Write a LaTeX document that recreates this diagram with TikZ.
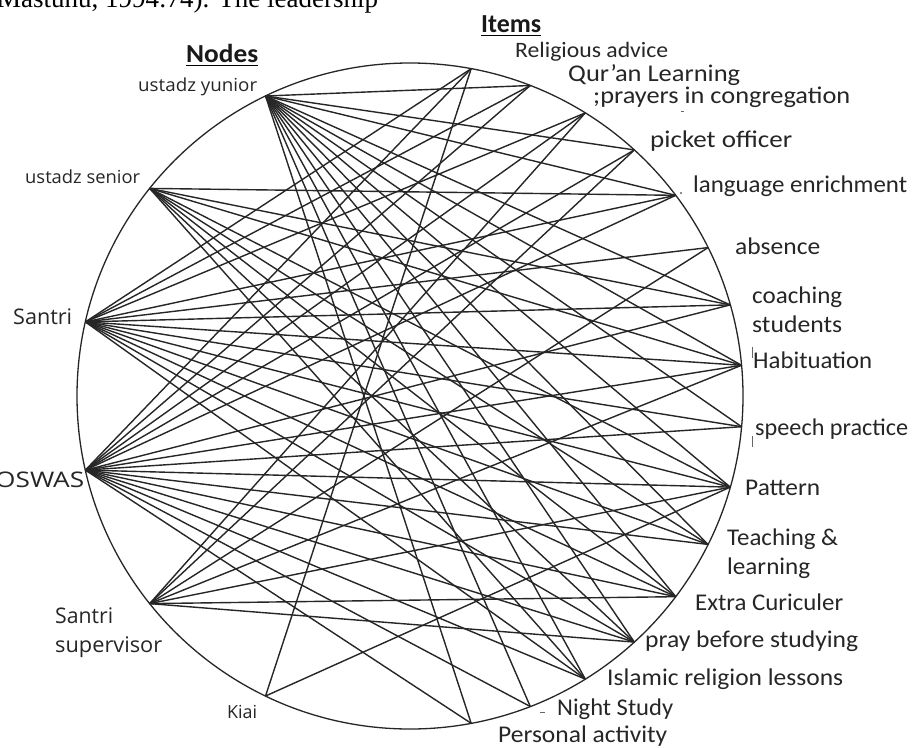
\documentclass[tikz,border=0pt]{standalone}
\usepackage{fontspec}
\setmainfont{Carlito}
\newfontfamily\leftfont{Open Sans}
\newfontfamily\bodyserif{Liberation Serif}
\usetikzlibrary{calc}

% text of a given size, stretched to a given width
\newcommand{\fitlabel}[3]{\resizebox{#1pt}{\height}{\fontsize{#2}{#2}\selectfont #3}}

\begin{document}
\begin{tikzpicture}[x=1pt,y=-1pt,
  chord/.style={line width=1.4pt, black!85},
  rim/.style={line width=1.3pt, black!85},
  speck/.style={line width=1pt, black!60},
  lbl/.style={inner sep=0pt, anchor=base west, text=black!85},
  hdr/.style={inner sep=0pt, anchor=base west, font=\bfseries, text=black!90}]
\useasboundingbox (0,0) rectangle (912,747);
\clip (0,0) rectangle (912,747);
\fill[white] (0,0) rectangle (912,747);

% running text line of the page above the figure
\node[inner sep=0pt, anchor=base west] (bodyline) at (-3,7)
  {\bodyserif\fontsize{27}{27}\selectfont Mastuhu, 1994:74). The leadership};

% the circle
\coordinate (O) at (410,396);
\draw[rim] (O) circle[radius=333];

% actors on the left arc
\foreach \nm [count=\j] in {yunior,senior,santri,oswas,supervisor,kiai}
  \coordinate (\nm) at ({410+333*cos(90+\j*180/7)},{396-333*sin(90+\j*180/7)});

% items on the right arc
\foreach \nm [count=\k] in {advice,quran,congregation,picket,language,absence,
    coaching,habituation,speech,pattern,teaching,extra,praybefore,islamic,night,personal}
  \coordinate (\nm) at ({410+333*cos(90-\k*180/17)},{396-333*sin(90-\k*180/17)});

% ties between actors and items
\foreach \a/\b in {
  yunior/quran, yunior/picket, yunior/language, yunior/coaching, yunior/habituation,
  yunior/speech, yunior/pattern, yunior/teaching, yunior/extra, yunior/praybefore,
  yunior/islamic, yunior/night, yunior/personal,
  senior/language, senior/coaching, senior/habituation, senior/pattern, senior/teaching,
  senior/extra, senior/praybefore, senior/islamic,
  santri/advice, santri/quran, santri/congregation, santri/language, santri/absence,
  santri/coaching, santri/habituation, santri/speech, santri/pattern, santri/teaching,
  santri/extra, santri/praybefore, santri/islamic,
  oswas/advice, oswas/quran, oswas/congregation, oswas/picket, oswas/language,
  oswas/coaching, oswas/habituation, oswas/speech, oswas/pattern,
  oswas/teaching, oswas/extra, oswas/praybefore, oswas/islamic, oswas/night, oswas/personal,
  supervisor/congregation, supervisor/picket, supervisor/absence,
  supervisor/habituation, supervisor/pattern, supervisor/extra, supervisor/praybefore,
  kiai/advice, kiai/pattern}
  \draw[chord] (\a) -- (\b);

% stray marks beside some item labels
\fill[black!60] (681,193) circle[radius=1.2];
\draw[speck] (681,111) -- (684,111);
\draw[speck] (752,347) -- (752,358);
\draw[speck] (752,436) -- (752,447);
\draw[speck] (540,712) -- (545,712);

% headings
\node[hdr] (hnodes) at (186,62) {\fitlabel{72}{26}{Nodes}};
\draw[line width=1.3pt] (186,65.5) -- (258,65.5);
\node[hdr] (hitems) at (481,32) {\fitlabel{60}{26}{Items}};
\draw[line width=1.3pt] (481,35.5) -- (541,35.5);

% actor labels
\node[lbl] (lyunior) at (138,91) {\fitlabel{119}{18}{\leftfont ustadz yunior}};
\node[lbl] (lsenior) at (25,183) {\fitlabel{115}{18}{\leftfont ustadz senior}};
\node[lbl] (lsantri) at (13,324) {\fitlabel{59}{21.5}{\leftfont Santri}};
\node[lbl] (loswas) at (-5,487) {\fitlabel{89}{21.5}{\leftfont OSWAS}};
\node[lbl] (lsup1) at (55,623) {\fitlabel{58}{21.5}{\leftfont Santri}};
\node[lbl] (lsup2) at (55,652) {\fitlabel{107}{21.5}{\leftfont supervisor}};
\node[lbl] (lkiai) at (227,718) {\fitlabel{30}{18}{\leftfont Kiai}};

% item labels
\node[lbl] (ladvice) at (515,57) {\fitlabel{153}{22}{Religious advice}};
\node[lbl] (lquran) at (568,81) {\fitlabel{172}{24}{Qur'an Learning}};
\node[lbl] (lcong) at (593,103) {\fitlabel{257}{24}{;prayers in congregation}};
\node[lbl] (lpicket) at (650,147) {\fitlabel{142}{24}{picket officer}};
\node[lbl] (llang) at (693,192) {\fitlabel{214}{24}{language enrichment}};
\node[lbl] (labs) at (735,254) {\fitlabel{85}{24}{absence}};
\node[lbl] (lcoach) at (752,303) {\fitlabel{90}{24}{coaching}};
\node[lbl] (lstud) at (752,332) {\fitlabel{90}{24}{students}};
\node[lbl] (lhab) at (753,368) {\fitlabel{119}{24}{Habituation}};
\node[lbl] (lspeech) at (755,435) {\fitlabel{153}{24}{speech practice}};
\node[lbl] (lpattern) at (745,495) {\fitlabel{75}{24}{Pattern}};
\node[lbl] (lteach1) at (727,545) {\fitlabel{111}{24}{Teaching \&}};
\node[lbl] (lteach2) at (727,574) {\fitlabel{83}{24}{learning}};
\node[lbl] (lextra) at (695,610) {\fitlabel{148}{24}{Extra Curiculer}};
\node[lbl] (lpray) at (645,647) {\fitlabel{213}{24}{pray before studying}};
\node[lbl] (lislam) at (607,685) {\fitlabel{236}{24}{Islamic religion lessons}};
\node[lbl] (lnight) at (557,715) {\fitlabel{116}{24}{Night Study}};
\node[lbl] (lpers) at (498,742) {\fitlabel{169}{24}{Personal activity}};
\end{tikzpicture}
\end{document}
